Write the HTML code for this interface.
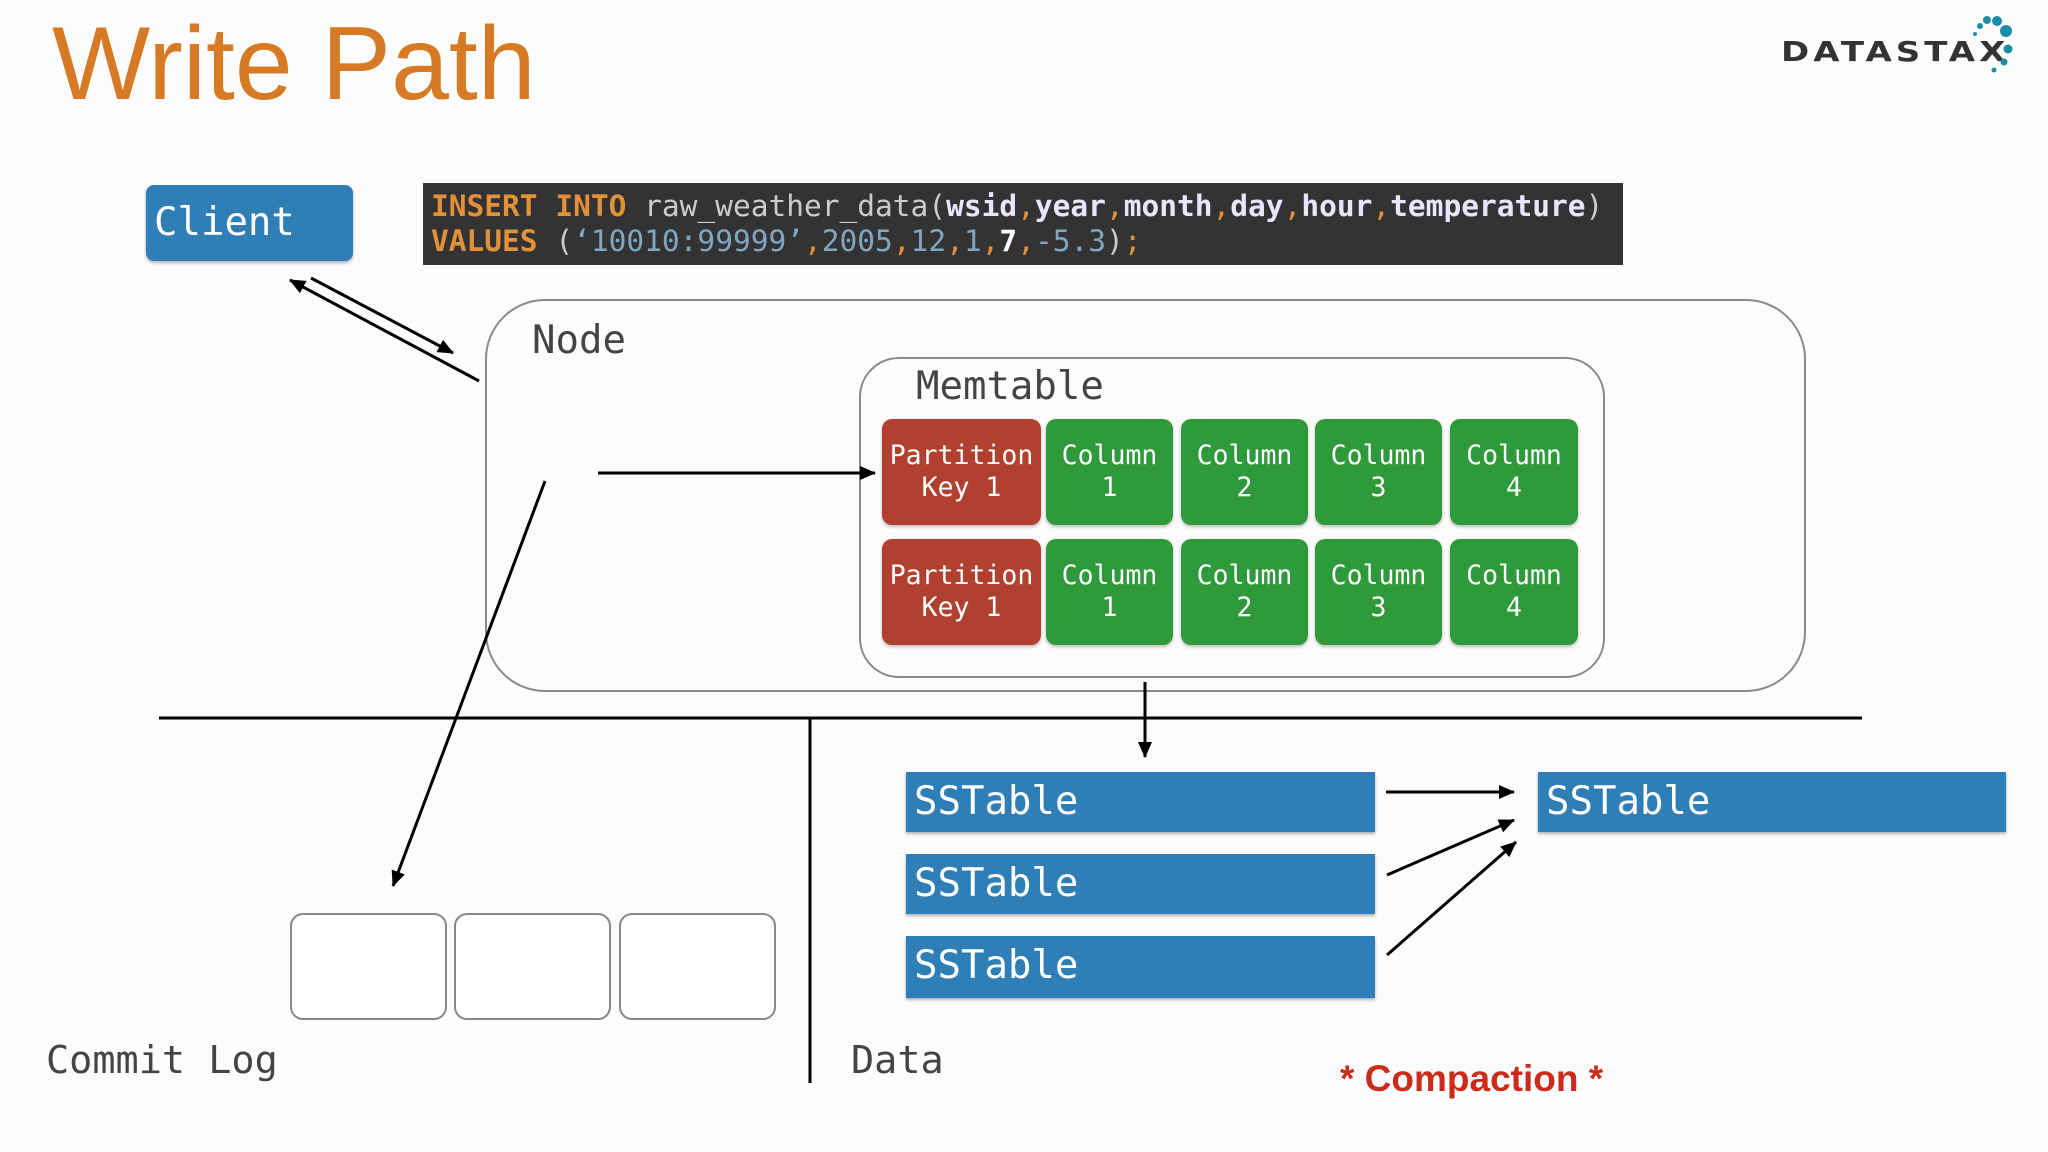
<!DOCTYPE html>
<html><head><meta charset="utf-8"><style>
body{margin:0;width:2048px;height:1152px;background:#fcfcfc;position:relative;overflow:hidden;font-family:"Liberation Sans",sans-serif}
.a{position:absolute;box-sizing:border-box}
.mono{font-family:"DejaVu Sans Mono","Liberation Mono",monospace}
.cell{position:absolute;border-radius:10px;color:#fff;text-align:center;font-family:"DejaVu Sans Mono","Liberation Mono",monospace;font-size:26.5px;line-height:32px;display:flex;align-items:center;justify-content:center;box-shadow:0 2px 3px rgba(0,0,0,.25)}
.r{background:#b0402f}.g{background:#2e9a3c}
.ss{position:absolute;box-sizing:border-box;background:#2f7fb6;color:#fff;font-family:"DejaVu Sans Mono","Liberation Mono",monospace;font-size:39px;line-height:60px;padding-left:8px;box-shadow:0 2px 3px rgba(0,0,0,.3)}
.cl{position:absolute;box-sizing:border-box;top:913px;height:107px;width:157px;border:2px solid #888;border-radius:13px;background:#fff}
</style></head><body>
<div class="a" style="left:52px;top:4px;font-size:104px;color:#d67a26;line-height:120px">Write Path</div>
<div class="a" style="left:1781px;top:36px;font-size:34px;letter-spacing:4px;color:#333;font-weight:bold;font-family:'DejaVu Sans',sans-serif;transform:scaleY(0.8);transform-origin:left top">DATASTAX</div>
<svg class="a" style="left:1970px;top:10px" width="70" height="70">
<g fill="#1a8ca8"><circle cx="10" cy="16" r="3"/><circle cx="17" cy="10" r="4"/><circle cx="27" cy="11" r="5"/><circle cx="36" cy="21" r="6"/><circle cx="38" cy="39" r="4.5"/><circle cx="34" cy="52" r="3.5"/><circle cx="24" cy="60" r="2.5"/><circle cx="5" cy="24" r="2"/></g></svg>

<div class="a mono" style="left:146px;top:185px;width:207px;height:76px;background:#2f7fb6;border-radius:8px;color:#fff;font-size:39px;line-height:76px;padding-left:8px;box-shadow:0 2px 3px rgba(0,0,0,.3)">Client</div>

<div class="a mono" style="left:423px;top:183px;width:1200px;height:82px;background:#333;font-size:29.5px;line-height:35px;padding:6px 0 0 8px;white-space:pre;color:#ccc"><span style="color:#e0913a;font-weight:bold">INSERT INTO</span> raw_weather_data(<b style="color:#e8e6ff">wsid</b><span style="color:#e0913a">,</span><b style="color:#e8e6ff">year</b><span style="color:#e0913a">,</span><b style="color:#e8e6ff">month</b><span style="color:#e0913a">,</span><b style="color:#e8e6ff">day</b><span style="color:#e0913a">,</span><b style="color:#e8e6ff">hour</b><span style="color:#e0913a">,</span><b style="color:#e8e6ff">temperature</b>)
<span style="color:#e0913a;font-weight:bold">VALUES</span> (<span style="color:#7fa7c2">‘10010:99999’</span><span style="color:#e0913a">,</span><span style="color:#7fa7c2">2005</span><span style="color:#e0913a">,</span><span style="color:#7fa7c2">12</span><span style="color:#e0913a">,</span><span style="color:#7fa7c2">1</span><span style="color:#e0913a">,</span><b style="color:#fff">7</b><span style="color:#e0913a">,</span><span style="color:#7fa7c2">-5.3</span>)<span style="color:#e0913a">;</span></div>

<div class="a" style="left:485px;top:299px;width:1321px;height:393px;border:2.5px solid #8a8a8a;border-radius:60px"></div>
<div class="a mono" style="left:532px;top:318px;font-size:39px;color:#444">Node</div>
<div class="a" style="left:859px;top:357px;width:746px;height:321px;border:2.5px solid #8a8a8a;border-radius:40px"></div>
<div class="a mono" style="left:916px;top:364px;font-size:39px;color:#444">Memtable</div>

<div class="cell r" style="left:882px;top:419px;width:159px;height:106px">Partition<br>Key 1</div>
<div class="cell g" style="left:1046px;top:419px;width:127px;height:106px">Column<br>1</div>
<div class="cell g" style="left:1181px;top:419px;width:127px;height:106px">Column<br>2</div>
<div class="cell g" style="left:1315px;top:419px;width:127px;height:106px">Column<br>3</div>
<div class="cell g" style="left:1450px;top:419px;width:128px;height:106px">Column<br>4</div>
<div class="cell r" style="left:882px;top:539px;width:159px;height:106px">Partition<br>Key 1</div>
<div class="cell g" style="left:1046px;top:539px;width:127px;height:106px">Column<br>1</div>
<div class="cell g" style="left:1181px;top:539px;width:127px;height:106px">Column<br>2</div>
<div class="cell g" style="left:1315px;top:539px;width:127px;height:106px">Column<br>3</div>
<div class="cell g" style="left:1450px;top:539px;width:128px;height:106px">Column<br>4</div>

<div class="cl" style="left:290px"></div><div class="cl" style="left:454px"></div><div class="cl" style="left:619px"></div>
<div class="a mono" style="left:46px;top:1038px;font-size:38.5px;color:#444">Commit Log</div>
<div class="a mono" style="left:851px;top:1038px;font-size:38.5px;color:#444">Data</div>

<div class="ss" style="left:906px;top:772px;width:469px;height:60px">SSTable</div>
<div class="ss" style="left:906px;top:854px;width:469px;height:60px">SSTable</div>
<div class="ss" style="left:906px;top:936px;width:469px;height:62px">SSTable</div>
<div class="ss" style="left:1538px;top:772px;width:468px;height:60px">SSTable</div>

<div class="a" style="left:1340px;top:1058px;font-size:37px;font-weight:bold;color:#cc2a1a">* Compaction *</div>

<svg class="a" style="left:0;top:0" width="2048" height="1152">
<defs><marker id="M" markerWidth="16" markerHeight="16" refX="15" refY="8" orient="auto" markerUnits="userSpaceOnUse" viewBox="0 0 16 16"><path d="M0,1 L16,8 L0,15 z" fill="#000"/></marker></defs>
<g stroke="#000" stroke-width="3" fill="none">
<line x1="159" y1="718" x2="1862" y2="718"/>
<line x1="810" y1="718" x2="810" y2="1083"/>
<line x1="479" y1="381" x2="290" y2="280" marker-end="url(#M)"/>
<line x1="311" y1="278" x2="453" y2="353" marker-end="url(#M)"/>
<line x1="598" y1="473" x2="875" y2="473" marker-end="url(#M)"/>
<line x1="545" y1="481" x2="393" y2="886" marker-end="url(#M)"/>
<line x1="1145" y1="682" x2="1145" y2="757" marker-end="url(#M)"/>
<line x1="1386" y1="792" x2="1514" y2="792" marker-end="url(#M)"/>
<line x1="1387" y1="875" x2="1514" y2="820" marker-end="url(#M)"/>
<line x1="1387" y1="955" x2="1516" y2="842" marker-end="url(#M)"/>
</g></svg>
</body></html>
